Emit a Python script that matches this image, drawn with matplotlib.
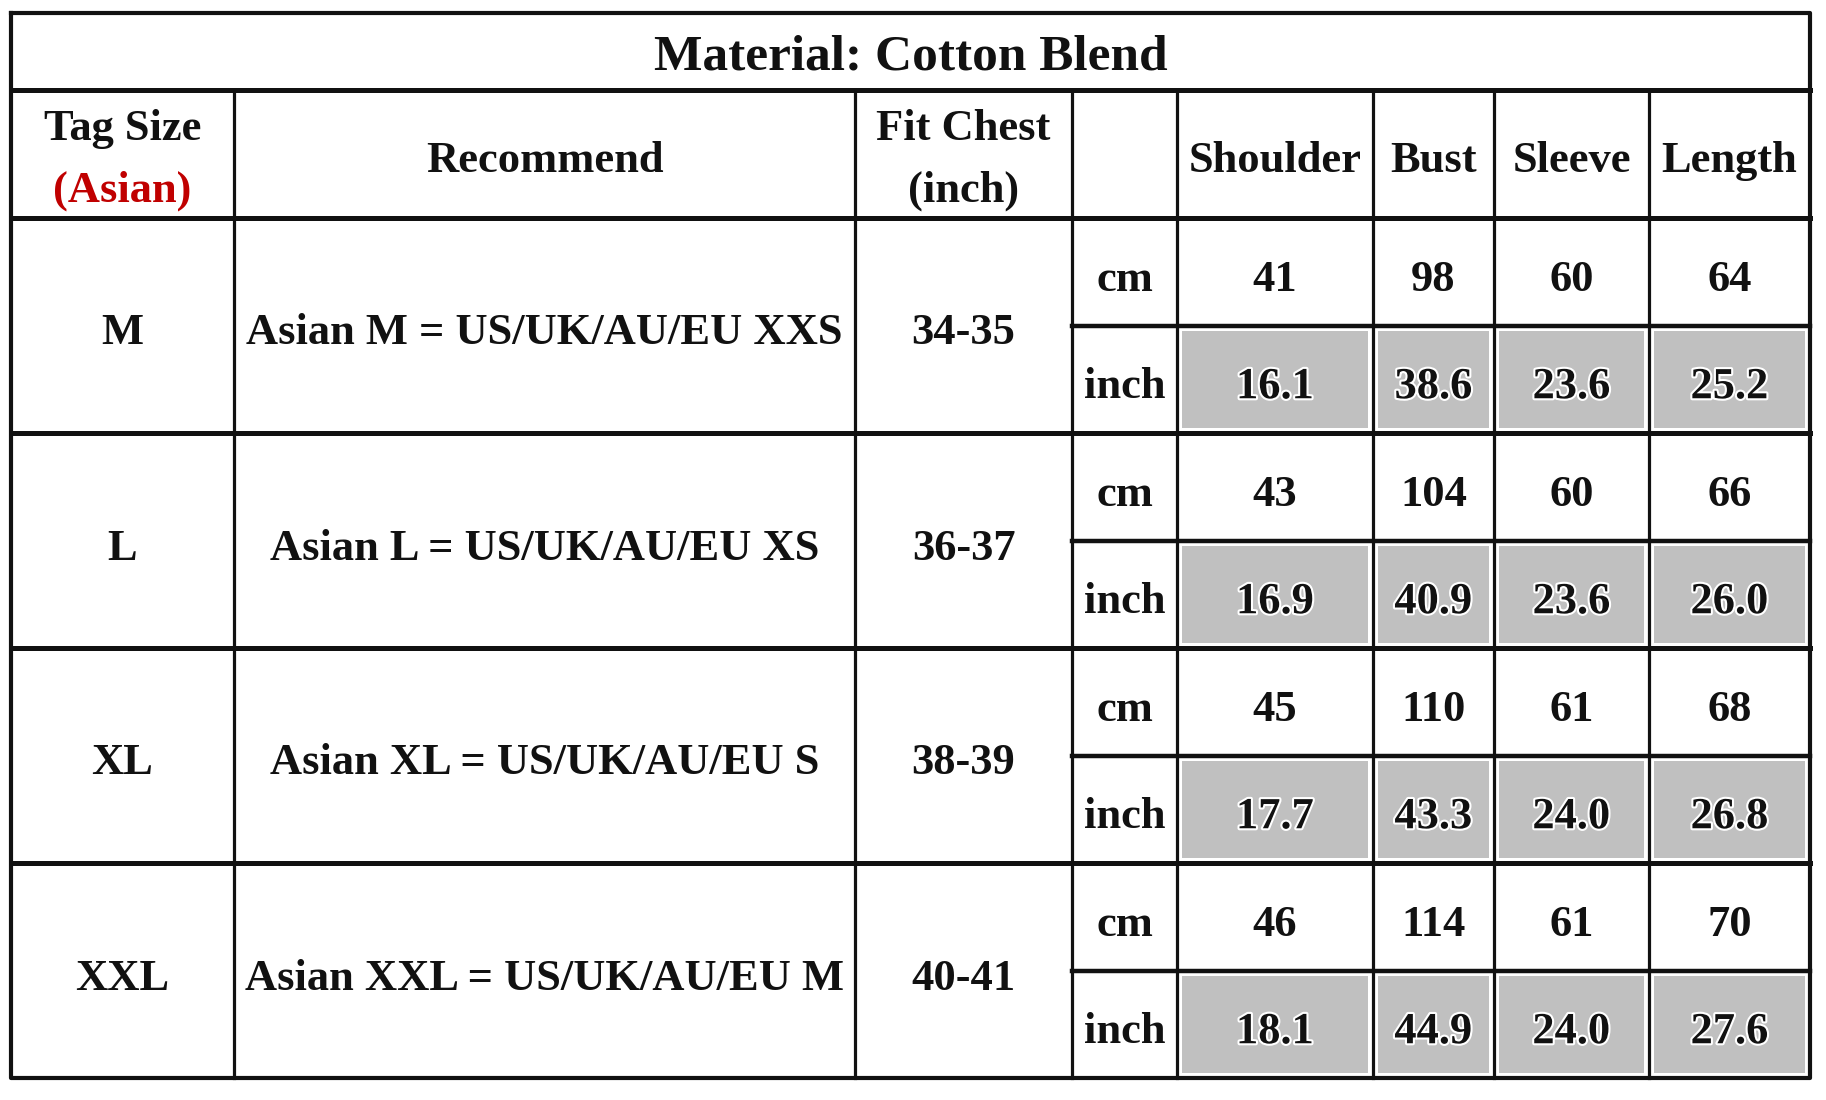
import matplotlib.pyplot as plt
import matplotlib.patheffects as pe
from matplotlib.patches import Rectangle

title = "Material: Cotton Blend"
tag_sizes = ["M", "L", "XL", "XXL"]
recommend = ["Asian M = US/UK/AU/EU XXS", "Asian L = US/UK/AU/EU XS",
             "Asian XL = US/UK/AU/EU S", "Asian XXL = US/UK/AU/EU M"]
fit_chest = ["34-35", "36-37", "38-39", "40-41"]
units = ["cm", "inch"]
measures = ["Shoulder", "Bust", "Sleeve", "Length"]
cm_values = {
    "Shoulder": ["41", "43", "45", "46"],
    "Bust": ["98", "104", "110", "114"],
    "Sleeve": ["60", "60", "61", "61"],
    "Length": ["64", "66", "68", "70"],
}
inch_values = {
    "Shoulder": ["16.1", "16.9", "17.7", "18.1"],
    "Bust": ["38.6", "40.9", "43.3", "44.9"],
    "Sleeve": ["23.6", "23.6", "24.0", "24.0"],
    "Length": ["25.2", "26.0", "26.8", "27.6"],
}

# layout in pixels
W, H = 1826, 1100
col_x = [11, 234, 855, 1072, 1177, 1373, 1494, 1649, 1810]
top, title_bot, head_bot, bottom = 13, 90, 218, 1078
grp_h = (bottom - head_bot) / len(tag_sizes)

fig = plt.figure(figsize=(W / 100, H / 100), dpi=100)
ax = fig.add_axes([0, 0, 1, 1])
ax.set_xlim(0, W)
ax.set_ylim(H, 0)
ax.axis("off")

font = dict(family="Liberation Serif", weight="bold", color="#111111",
            ha="center", va="center")
body_fs = 32
dy = 8  # text sits a bit low in the cells

def cx(i):
    return (col_x[i] + col_x[i + 1]) / 2

# grey fill for inch rows
for g in range(len(tag_sizes)):
    y0 = head_bot + g * grp_h
    ymid = y0 + grp_h / 2
    for j in range(len(measures)):
        x0, x1 = col_x[4 + j], col_x[5 + j]
        ax.add_patch(Rectangle((x0 + 5, ymid + 5), x1 - x0 - 10, grp_h / 2 - 10,
                               facecolor="#c0c0c0", edgecolor="none", zorder=1))

# grid lines
lw_v, lw_h = 2.3, 3.6
kw = dict(color="#111111", solid_capstyle="projecting", zorder=3)
ax.plot([col_x[0], col_x[-1], col_x[-1], col_x[0], col_x[0]],
        [top, top, bottom, bottom, top], lw=3.0, **kw)
for y in [title_bot, head_bot]:
    ax.plot([col_x[0], col_x[-1]], [y, y], lw=lw_h, **kw)
for g in range(1, len(tag_sizes)):
    y = head_bot + g * grp_h
    ax.plot([col_x[0], col_x[-1]], [y, y], lw=lw_h, **kw)
for g in range(len(tag_sizes)):
    y = head_bot + g * grp_h + grp_h / 2
    ax.plot([col_x[3], col_x[-1]], [y, y], lw=3.2, **kw)
for x in col_x[1:-1]:
    ax.plot([x, x], [title_bot, bottom], lw=lw_v, **kw)

# title
ax.text((col_x[0] + col_x[-1]) / 2, (top + title_bot) / 2 + 6, title,
        fontsize=37, zorder=4, **font)

# header
hy = (title_bot + head_bot) / 2 + 5
ax.text(cx(0), hy - 30, "Tag Size", fontsize=body_fs, zorder=4, **font)
red = dict(font, color="#c00000")
ax.text(cx(0), hy + 32, "(Asian)", fontsize=body_fs, zorder=4, **red)
ax.text(cx(1), hy + 2, "Recommend", fontsize=body_fs, zorder=4, **font)
ax.text(cx(2), hy - 30, "Fit Chest", fontsize=body_fs, zorder=4, **font)
ax.text(cx(2), hy + 32, "(inch)", fontsize=body_fs, zorder=4, **font)
for j, m in enumerate(measures):
    ax.text(cx(4 + j), hy + 2, m, fontsize=body_fs, zorder=4, **font)

# body
halo = [pe.withStroke(linewidth=3, foreground="white")]
for g, tag in enumerate(tag_sizes):
    y0 = head_bot + g * grp_h
    yc = y0 + grp_h / 2 + dy
    ycm = y0 + grp_h / 4 + dy
    yin = y0 + 3 * grp_h / 4 + dy
    ax.text(cx(0), yc, tag, fontsize=body_fs, zorder=4, **font)
    ax.text(cx(1), yc, recommend[g], fontsize=body_fs, zorder=4, **font)
    ax.text(cx(2), yc, fit_chest[g], fontsize=body_fs, zorder=4, **font)
    ax.text(cx(3), ycm, units[0], fontsize=body_fs, zorder=4, **font)
    ax.text(cx(3), yin, units[1], fontsize=body_fs, zorder=4, **font)
    for j, m in enumerate(measures):
        ax.text(cx(4 + j), ycm, cm_values[m][g], fontsize=body_fs, zorder=4, **font)
        ax.text(cx(4 + j), yin, inch_values[m][g], fontsize=body_fs, zorder=4,
                path_effects=halo, **font)

fig.savefig("out.png", dpi=100, facecolor="white")
